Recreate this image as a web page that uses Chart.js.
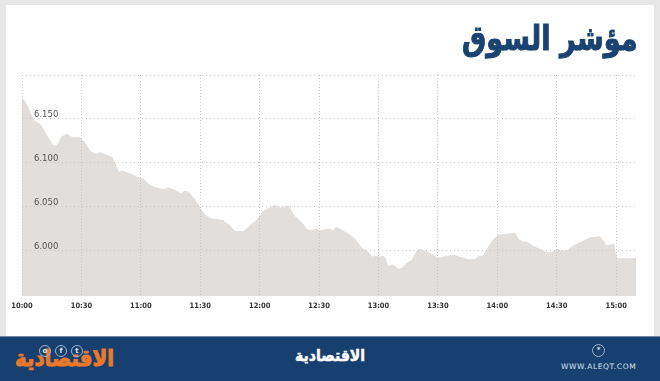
<!DOCTYPE html>
<html lang="ar">
<head>
<meta charset="utf-8">
<title>مؤشر السوق</title>
<script src="https://cdn.jsdelivr.net/npm/chart.js@4/dist/chart.umd.min.js"></script>
<style>
  html, body { margin: 0; padding: 0; width: 660px; height: 381px; overflow: hidden; background: #e7e7e7; }
  #card { position: absolute; left: 6px; top: 5px; width: 648px; height: 331px; background: #fff; }
  #marketChart { position: absolute; left: 0; top: 0; }
  #pageTitle { position: absolute; right: 22px; top: 18px; direction: rtl; white-space: nowrap;
    font: bold 34px "DejaVu Sans", sans-serif; color: #1a4372; -webkit-text-stroke: 1px #1a4372;
    transform: scaleX(0.8); transform-origin: right center; }
  #footer { position: absolute; left: 0; top: 336px; width: 660px; height: 45px; background: #173f6f; border-top: 1px solid #6f88a6; box-sizing: border-box; }
  #footer div { position: absolute; white-space: nowrap; }
  #logoOrange { left: 15px; top: 8px; direction: rtl; font: bold 23px "DejaVu Sans", sans-serif; color: #e8792b; -webkit-text-stroke: 1px #e8792b;
    transform: scaleX(0.86); transform-origin: left center; }
  #logoWhite { left: 295px; top: 9px; direction: rtl; font: bold 16px "DejaVu Sans", sans-serif; color: #fff; -webkit-text-stroke: 0.5px #fff;
    transform: scaleX(0.875); transform-origin: left center; }
  #site { left: 561px; top: 25px; font: 7.5px "DejaVu Sans", sans-serif; letter-spacing: 0.6px; color: #dbe3ec; }
  .icon { width: 10px; height: 10px; top: 8px; border: 1px solid #9fb2c8; border-radius: 50%; text-align: center;
    font: bold 7px/10px "DejaVu Sans", sans-serif; color: #e3e9f0; }
</style>
</head>
<body>
<div id="card"></div>
<canvas id="marketChart" width="660" height="336"></canvas>
<div id="pageTitle">مؤشر السوق</div>
<div id="footer">
  <div id="logoOrange">الاقتصادية</div>
  <div class="icon" style="left:39px">o</div>
  <div class="icon" style="left:55px">f</div>
  <div class="icon" style="left:71px">t</div>
  <div id="logoWhite">الاقتصادية</div>
  <div class="icon" style="left:592px;top:7px;width:11px;height:11px;line-height:11px">*</div>
  <div id="site">WWW.ALEQT.COM</div>
</div>
<script>
// minutes after 10:00
const minutes = [0,2,4,6.2,8.6,10,12.5,15.8,17.5,20,22.6,25.6,29.3,31.8,34.7,37.4,39.4,42.8,45.8,47.5,49.1,50.5,52.9,55.4,58.7,61.3,63.8,67.2,71.4,73.9,77.3,80.3,82,84,87.4,89.9,92.4,94.9,100,101.7,102.5,104.2,107.6,111.8,114.3,118.5,121.6,124.4,127.8,130.3,134.5,137.9,141.3,144.1,145.8,148.8,150.5,155.2,156.9,158.9,162,164.8,168.2,171.6,174.1,176.9,179.1,180.5,182.5,183.7,185,187.2,190,191.8,194.3,196.8,199.3,201,204.4,207.7,209.4,211.1,214.5,218.2,220.4,222.6,225.4,228.8,230.5,232.7,235.5,238,240.6,242.3,244.8,249,250.7,253.2,255.2,258.2,261.6,265,267.5,270,271.7,275.1,278.4,283.5,286.9,291.9,295.3,299,299.8,300.7,310];
const indexValues = [6174,6169,6159,6148,6145,6142,6132,6120,6120,6130,6133,6129,6129,6123,6113,6110,6112,6109,6106,6098,6089,6091,6089,6087,6083,6082,6076,6072,6070,6072,6069,6065,6068,6067,6058,6049,6041,6037,6035,6035,6032,6030,6022,6022,6027,6035,6045,6048,6052,6049,6051,6039,6032,6024,6023,6025,6023,6025,6023,6027,6023,6019,6013,6003,6000,5993,5994,5993,5994,5991,5982,5984,5979,5980,5986,5989,6000,6002,5999,5995,5992,5992,5994,5995,5993,5992,5990,5990,5994,5994,6005,6013,6018,6018,6019,6020,6013,6010,6010,6005,6002,5998,5998,6002,6000,6000,6006,6011,6015,6016,6006,6008,5995,5991,5991];

const timeTicks = [0,30,60,90,120,150,180,210,240,270,300];
const timeLabels = ['10:00','10:30','11:00','11:30','12:00','12:30','13:00','13:30','14:00','14:30','15:00'];
const valueTicks = [6000,6050,6100,6150,6200];
const valueLabels = ['6.000','6.050','6.100','6.150',''];

const ctx = document.getElementById('marketChart').getContext('2d');

new Chart(ctx, {
  type: 'line',
  data: {
    datasets: [{
      label: 'مؤشر السوق',
      data: minutes.map((m, i) => ({ x: m, y: indexValues[i] })),
      backgroundColor: '#e1dedc',
      borderWidth: 0,
      pointRadius: 0,
      tension: 0,
      fill: 'start'
    }]
  },
  options: {
    responsive: false,
    animation: false,
    layout: { padding: { left: 22, right: 24, top: 75, bottom: 24 } },
    plugins: { legend: { display: false }, tooltip: { enabled: false } },
    scales: {
      x: {
        type: 'linear',
        min: 0,
        max: 310,
        afterBuildTicks: axis => { axis.ticks = timeTicks.map(v => ({ value: v })); },
        afterFit: axis => { axis.height = 16; },
        grid: { z: 1, color: '#c6c6c6', drawTicks: false },
        border: { display: false, dash: [1, 2] },
        ticks: {
          z: 1,
          padding: 6,
          maxRotation: 0,
          autoSkip: false,
          color: '#333',
          font: { family: '"DejaVu Sans Condensed", "DejaVu Sans"', size: 7.5, weight: 'bold' },
          callback: v => timeLabels[timeTicks.indexOf(v)]
        }
      },
      y: {
        min: 5948,
        max: 6200,
        afterBuildTicks: axis => { axis.ticks = valueTicks.map(v => ({ value: v })); },
        afterFit: axis => { axis.width = 0; },
        grid: { z: 1, color: '#c6c6c6', drawTicks: false },
        border: { display: false, dash: [1, 3] },
        ticks: {
          z: 1,
          mirror: true,
          padding: 12,
          labelOffset: -4,
          color: '#555',
          font: { family: '"DejaVu Sans"', size: 8.5 },
          callback: v => valueLabels[valueTicks.indexOf(v)]
        }
      }
    }
  }
});
</script>
</body>
</html>
